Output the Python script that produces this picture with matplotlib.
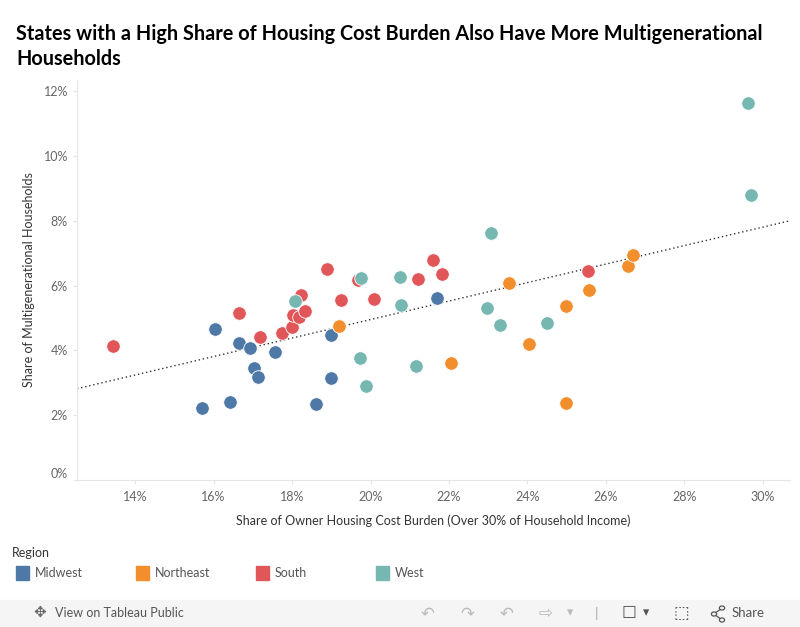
import numpy as np
import matplotlib
matplotlib.use('Agg')
import matplotlib.pyplot as plt
from matplotlib.patches import Rectangle, Circle
from matplotlib.lines import Line2D

# share of owner housing cost burden (%), share of multigenerational households (%)
midwest_x = [15.71, 16.04, 16.42, 16.65, 16.93, 17.03, 17.13, 17.57, 18.61, 18.99, 18.99, 21.69]
midwest_y = [2.22, 4.66, 2.41, 4.23, 4.07, 3.46, 3.18, 3.95, 2.35, 4.48, 3.15, 5.63]

northeast_x = [19.19, 22.04, 23.52, 24.05, 24.97, 24.99, 25.58, 26.55, 26.70]
northeast_y = [4.76, 3.62, 6.09, 4.21, 2.39, 5.38, 5.87, 6.61, 6.95]

south_x = [13.43, 16.66, 17.18, 17.74, 18.00, 18.02, 18.18, 18.32, 18.22, 18.88, 19.24,
           19.68, 20.08, 21.22, 21.58, 21.81, 25.53]
south_y = [4.15, 5.16, 4.42, 4.55, 4.73, 5.10, 5.04, 5.23, 5.72, 6.52, 5.56,
           6.18, 5.60, 6.21, 6.80, 6.37, 6.46]

west_x = [18.07, 19.76, 19.72, 19.88, 20.74, 20.77, 21.17, 22.96, 23.06, 23.29, 24.51, 29.62, 29.69]
west_y = [5.53, 6.24, 3.77, 2.91, 6.27, 5.41, 3.53, 5.32, 7.63, 4.79, 4.86, 11.65, 8.80]

regions = ['Midwest', 'Northeast', 'South', 'West']
colors = ['#4e79a7', '#f28e2b', '#e15759', '#76b7b2']

x_ticks = [14, 16, 18, 20, 22, 24, 26, 28, 30]
y_ticks = [0, 2, 4, 6, 8, 10, 12]

series = [(midwest_x, midwest_y), (northeast_x, northeast_y),
          (south_x, south_y), (west_x, west_y)]

plt.rcParams['font.family'] = ['Lato', 'DejaVu Sans']

fig = plt.figure(figsize=(8, 6.27), dpi=100)
ax = fig.add_axes([77/800, 1 - 480/627, (790 - 77)/800, (480 - 80)/627])

xlim = (12.52, 30.69)
ax.set_xlim(*xlim)
ax.set_ylim(0, 12.35)

# trend line over all states
all_x = np.array(midwest_x + northeast_x + south_x + west_x)
all_y = np.array(midwest_y + northeast_y + south_y + west_y)
slope, icpt = np.polyfit(all_x, all_y, 1)
tx = np.array(xlim)
ax.plot(tx, slope * tx + icpt, color='#333333', lw=1, linestyle=(0, (1, 2)), zorder=2)

for (xs, ys), c in zip(series, colors):
    ax.scatter(xs, ys, s=95, color=c, edgecolor='white', linewidth=0.6, zorder=3)

ax.set_xticks(x_ticks)
ax.set_xticklabels(['%d%%' % t for t in x_ticks])
ax.set_yticks(y_ticks)
ax.set_yticklabels(['%d%%' % t for t in y_ticks])
ax.tick_params(axis='both', colors='#e6e6e6', labelcolor='#666666', labelsize=9, length=3)
ax.tick_params(axis='x', pad=5)
ax.get_yticklabels()[0].set_va('bottom')

for side in ['top', 'right']:
    ax.spines[side].set_visible(False)
for side in ['left', 'bottom']:
    ax.spines[side].set_color('#e6e6e6')
    ax.spines[side].set_linewidth(0.8)

ax.set_xlabel('Share of Owner Housing Cost Burden (Over 30% of Household Income)',
              fontsize=9, color='#333333', labelpad=8)
ax.set_ylabel('Share of Multigenerational Households', fontsize=9, color='#333333', labelpad=6)

# title
fig.text(16/800, 1 - 40/627, 'States with a High Share of Housing Cost Burden Also Have More Multigenerational',
         fontsize=14.3, fontweight='bold', color='#000000', va='baseline')
fig.text(16/800, 1 - 65/627, 'Households',
         fontsize=14.3, fontweight='bold', color='#000000', va='baseline')

# legend
fig.text(12/800, 1 - 553/627, 'Region', fontsize=9, color='#333333', va='center')
for i, (name, c) in enumerate(zip(regions, colors)):
    x0 = 16 + i * 120
    fig.patches.append(Rectangle((x0/800, 1 - 580/627), 13/800, 14/627,
                                 transform=fig.transFigure, color=c))
    fig.text((x0 + 19)/800, 1 - 573/627, name, fontsize=9, color='#555555', va='center')

# toolbar
fig.patches.append(Rectangle((0, 0), 1, 27/627, transform=fig.transFigure,
                             color='#f5f5f5', zorder=0))
fig.text(33/800, 1 - 613/627, '\u2725', fontsize=11, color='#666666', va='center')
fig.text(55/800, 1 - 613/627, 'View on Tableau Public', fontsize=9, color='#555555', va='center')
for px, sym in [(428, '\u21b6'), (467, '\u21b7'), (507, '\u21b6'), (545, '\u21e8')]:
    fig.text(px/800, 1 - 613/627, sym, fontsize=12, color='#bbbbbb', va='center', ha='center',
             family='DejaVu Sans')
fig.text(570/800, 1 - 613/627, '\u25be', fontsize=9, color='#bbbbbb', va='center', ha='center',
         family='DejaVu Sans')
fig.text(596/800, 1 - 613/627, '|', fontsize=10, color='#aaaaaa', va='center', ha='center')
fig.text(629/800, 1 - 613/627, '\u2610', fontsize=12, color='#555555', va='center', ha='center',
         family='DejaVu Sans')
fig.text(646/800, 1 - 613/627, '\u25be', fontsize=9, color='#555555', va='center', ha='center',
         family='DejaVu Sans')
fig.text(681/800, 1 - 613/627, '\u2b1a', fontsize=12, color='#555555', va='center', ha='center',
         family='DejaVu Sans')

# share icon: three nodes joined by two lines
nodes = [(714, 614), (722, 608), (722, 620)]
for (a, b) in [(0, 1), (0, 2)]:
    fig.lines.append(Line2D([nodes[a][0]/800, nodes[b][0]/800],
                            [1 - nodes[a][1]/627, 1 - nodes[b][1]/627],
                            transform=fig.transFigure, color='#555555', lw=0.9))
for nx, ny in nodes:
    fig.patches.append(Circle((nx/800, 1 - ny/627), 2.6/800, transform=fig.transFigure,
                              facecolor='#f5f5f5', edgecolor='#555555', lw=0.9, zorder=3))
fig.text(732/800, 1 - 613/627, 'Share', fontsize=9.5, color='#555555', va='center')

fig.savefig('out.png', dpi=100)
